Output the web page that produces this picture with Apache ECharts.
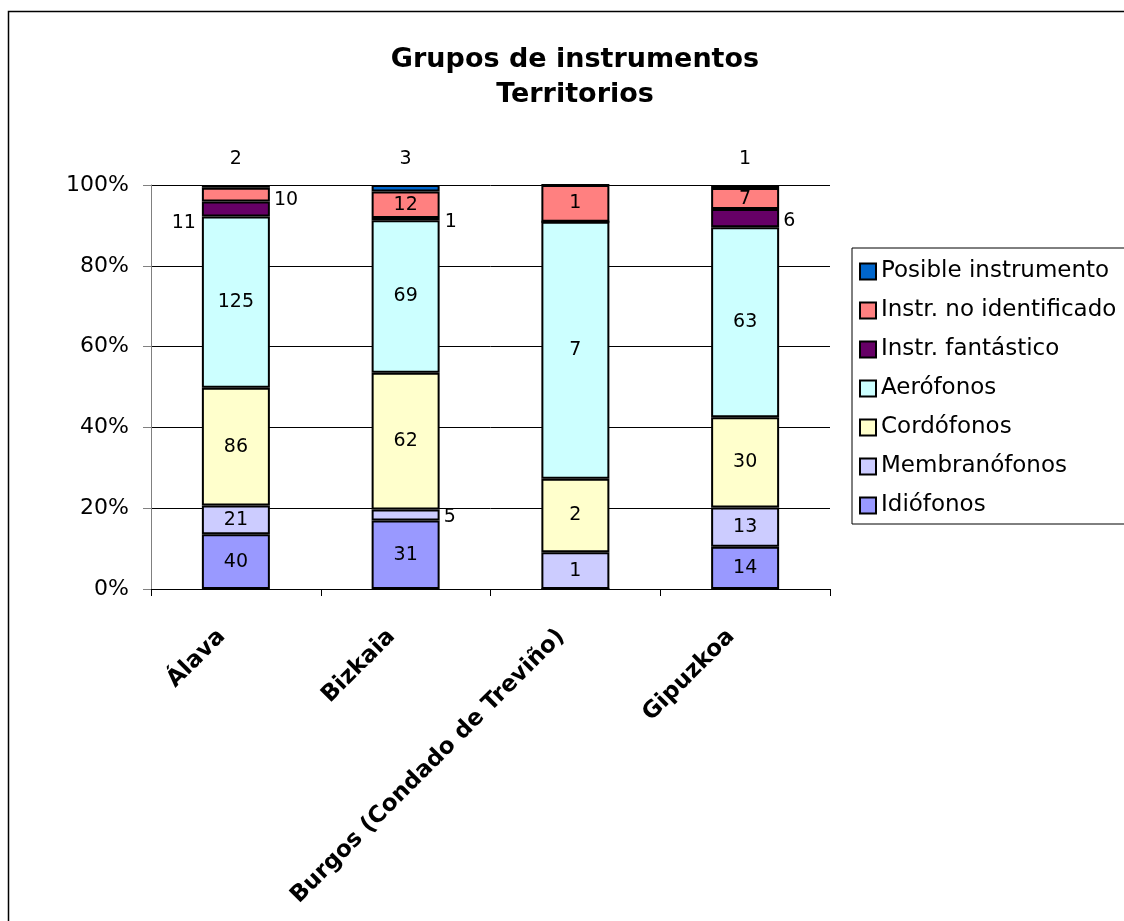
<!DOCTYPE html>
<html>
<head>
<meta charset="utf-8">
<script src="https://cdn.jsdelivr.net/npm/echarts@6/dist/echarts.min.js"></script>
<style>
  html, body { margin: 0; padding: 0; background: #fff; }
  #chart { width: 1124px; height: 921px; }
</style>
</head>
<body>
<div id="chart"></div>
<script>
// datos
const territorios = ['Álava', 'Bizkaia', 'Burgos (Condado de Treviño)', 'Gipuzkoa']
const grupos = ['Idiófonos', 'Membranófonos', 'Cordófonos', 'Aerófonos', 'Instr. fantástico', 'Instr. no identificado', 'Posible instrumento']
const idiofonos = [40, 31, 0, 14]
const membranofonos = [21, 5, 1, 13]
const cordofonos = [86, 62, 2, 30]
const aerofonos = [125, 69, 7, 63]
const fantastico = [11, 1, 0, 6]
const noIdentificado = [10, 12, 1, 7]
const posible = [2, 3, 0, 1]
const yTicks = [0, 20, 40, 60, 80, 100]

const valores = [idiofonos, membranofonos, cordofonos, aerofonos, fantastico, noIdentificado, posible]
const colores = ['#9999FF', '#CCCCFF', '#FFFFCC', '#CCFFFF', '#660066', '#FF8080', '#0066CC']
const fuente = 'DejaVu Sans'

// etiquetas que van fuera de la barra: serie -> categoría
const arriba = { position: 'top', distance: 16 }
const fueraBarra = {
  1: { 1: { position: 'right', distance: 4, offset: [0, 2] } },
  4: {
    0: { position: 'left', distance: 6, offset: [0, 14] },
    1: { position: 'right', distance: 5, offset: [0, 3] },
    3: { position: 'right', distance: 4, offset: [0, 3] }
  },
  5: { 0: { position: 'right', distance: 4, offset: [0, 5] } },
  6: { 0: arriba, 1: arriba, 3: arriba }
}

const totales = territorios.map((t, i) => valores.reduce((s, serie) => s + serie[i], 0))

const series = grupos.map((nombre, s) => ({
  name: nombre,
  type: 'bar',
  stack: 'total',
  barWidth: 68,
  itemStyle: {
    color: colores[s],
    borderColor: '#000',
    borderWidth: 2
  },
  label: {
    show: true,
    position: 'inside',
    color: '#000',
    fontSize: 19,
    fontFamily: fuente,
    formatter: p => (valores[s][p.dataIndex] ? String(valores[s][p.dataIndex]) : '')
  },
  data: valores[s].map((v, i) => {
    const item = { value: v / totales[i] * 100 }
    const extra = fueraBarra[s] && fueraBarra[s][i]
    if (extra) item.label = extra
    return item
  })
}))

const chart = echarts.init(document.getElementById('chart'))
chart.setOption({
  animation: false,
  backgroundColor: '#fff',
  textStyle: { fontFamily: fuente },
  title: {
    text: 'Grupos de instrumentos\nTerritorios',
    left: 570,
    top: 37,
    textAlign: 'center',
    textStyle: {
      color: '#000',
      fontSize: 27,
      fontWeight: 'bold',
      lineHeight: 35,
      fontFamily: fuente
    }
  },
  graphic: [
    {
      type: 'rect',
      shape: { x: 8.5, y: 11.5, width: 1200, height: 1000 },
      style: { fill: 'none', stroke: '#000', lineWidth: 1.5 },
      silent: true
    }
  ],
  legend: {
    orient: 'vertical',
    left: 852,
    top: 248,
    padding: [12, 10, 7, 7],
    itemWidth: 16,
    itemHeight: 16,
    itemGap: 16,
    icon: 'rect',
    borderColor: '#000',
    borderWidth: 1,
    textStyle: { color: '#000', fontSize: 23, fontFamily: fuente },
    data: grupos.slice().reverse()
  },
  grid: {
    left: 151,
    right: 294,
    top: 185,
    bottom: 332
  },
  xAxis: {
    type: 'category',
    data: territorios,
    axisLine: { show: true, lineStyle: { color: '#000', width: 1 } },
    axisTick: { show: true, length: 7, lineStyle: { color: '#000' } },
    axisLabel: {
      interval: 0,
      rotate: 45,
      margin: 30,
      padding: [0, 20, 0, 0],
      color: '#000',
      fontSize: 23,
      fontWeight: 'bold',
      fontFamily: fuente
    }
  },
  yAxis: {
    type: 'value',
    min: yTicks[0],
    max: yTicks[yTicks.length - 1],
    interval: yTicks[1] - yTicks[0],
    axisLine: { show: true, lineStyle: { color: '#808080', width: 1 } },
    axisTick: { show: true, length: 8, lineStyle: { color: '#808080' } },
    splitLine: { show: true, lineStyle: { color: '#000', width: 1 } },
    axisLabel: {
      margin: 22,
      color: '#000',
      fontSize: 22,
      fontFamily: fuente,
      formatter: '{value}%'
    }
  },
  series: series
})
</script>
</body>
</html>
